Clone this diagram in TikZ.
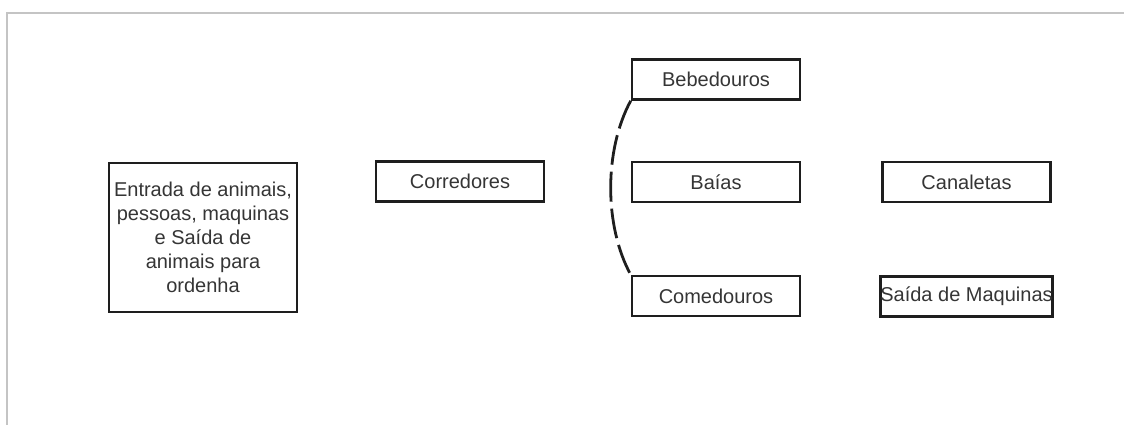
\documentclass[tikz,border=0pt]{standalone}
\usepackage{fontspec}
\setmainfont{Liberation Sans}
\usepackage{tikz}
\usetikzlibrary{positioning}
\usepackage{xcolor}
\definecolor{framegray}{HTML}{C4C4C4}
\definecolor{boxline}{HTML}{1E1E1E}

\begin{document}
\begin{tikzpicture}[
    x=1pt, y=-1pt,
    every node/.style={font=\fontsize{20}{24}\selectfont, text=boxline!90},
    area/.style={draw=boxline, line width=2.6pt, minimum width=168pt, minimum height=40pt, inner sep=0pt},
    link/.style={draw=boxline, line width=2.8pt, dash pattern=on 30pt off 7pt}
]

\useasboundingbox (0,0) rectangle (1124,425);
\draw[framegray, line width=2pt] (7,425) -- (7,13) -- (1124,13);

\node[area, minimum width=188pt, minimum height=149pt, align=center] (entrada) at (203,237.5)
    {Entrada de animais,\\ pessoas, maquinas\\ e Saída de\\ animais para\\ ordenha};

\node[area] (corredores) at (460,181.5) {Corredores\hspace{12pt}};

\node[area] (bebedouros) at (716,79.5) {Bebedouros\hspace{12pt}};
\node[area] (baias) at (716,182) {Baías\hspace{12pt}};
\node[area] (comedouros) at (716,296) {Comedouros\hspace{12pt}};

\node[area] (canaletas) at (966.5,182) {Canaletas\hspace{12pt}};
\node[area] (saida) at (966.5,296.5) {Saída de Maquinas};

\draw[link] (bebedouros.south west)
    .. controls (604,150) and (604,226) .. (comedouros.north west);

\end{tikzpicture}
\end{document}
